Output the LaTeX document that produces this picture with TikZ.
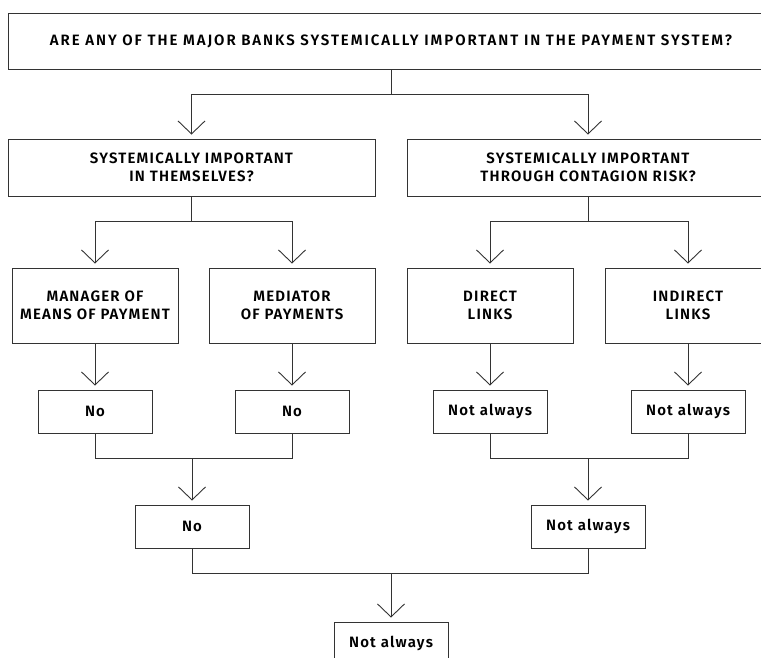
\documentclass[tikz,border=0pt]{standalone}
\usepackage{fontspec}
\setmainfont{Fira Sans}[LetterSpace=8,BoldFont={Fira Sans SemiBold}]
\usetikzlibrary{arrows.meta}

\tikzstyle{box}=[draw=black!80,line width=0.9pt,rectangle,inner sep=0pt,align=center,font=\fontsize{15}{18.5}\selectfont\bfseries]
\tikzstyle{small}=[box,minimum width=114pt,minimum height=43pt,font=\fontsize{15}{18}\selectfont\bfseries]
\tikzstyle{line}=[draw=black!80,line width=0.9pt]
\tikzstyle{arrow}=[line,-{Straight Barb[length=13pt,width=27pt]},shorten >=4pt]

\begin{document}
\begin{tikzpicture}[x=1pt,y=-1pt]
    \useasboundingbox (0,0) rectangle (761,657);
    % The question and its two branches
    \node[box,minimum width=766pt,minimum height=56pt] (q) at (391,41)
        {\addfontfeature{LetterSpace=13}ARE ANY OF THE MAJOR BANKS SYSTEMICALLY IMPORTANT IN THE PAYMENT SYSTEM?};
    \node[box,minimum width=367pt,minimum height=57pt] (self) at (191.5,167.5)
        {SYSTEMICALLY IMPORTANT\\IN THEMSELVES?};
    \node[box,minimum width=362pt,minimum height=57pt] (cont) at (588,167.5)
        {SYSTEMICALLY IMPORTANT\\THROUGH CONTAGION RISK?};
    % Roles and links
    \foreach \pos/\name/\txt in {{(95,305.5)/manager/{MANAGER OF\\MEANS OF PAYMENT}},
        {(292,305.5)/mediator/{MEDIATOR\\OF PAYMENTS}},
        {(490,305.5)/direct/{DIRECT\\LINKS}},
        {(688,305.5)/indirect/{INDIRECT\\LINKS}}}
        \node[box,minimum width=166pt,minimum height=75pt] (\name) at \pos {\txt};
    % Answers
    \foreach \pos/\name/\txt in {{(95,411.5)/no1/No}, {(292,411.5)/no2/No},
        {(490,411.5)/na1/Not always}, {(688,411.5)/na2/Not always},
        {(192,526.5)/no3/No}, {(588,526.5)/na3/Not always},
        {(391,643.5)/final/Not always}}
        \node[small] (\name) at \pos {\txt};

    % Splits
    \foreach \parent/\left/\right in {q/self/cont, self/manager/mediator, cont/direct/indirect}
    {
        \path[line] (\parent.south) -- ++(0,25) coordinate (j);
        \path[arrow] (j) -| (\left.north);
        \path[arrow] (j) -| (\right.north);
    }
    \foreach \source/\dest in {manager/no1, mediator/no2, direct/na1, indirect/na2}
        \path[arrow] (\source.south) -- (\dest.north);
    % Merges
    \foreach \a/\b/\child in {no1/no2/no3, na1/na2/na3, no3/na3/final}
    {
        \path[line] (\a.south) -- ++(0,25) coordinate (m) -| (\b.south);
        \path[arrow] (m -| \child.north) -- (\child.north);
    }
\end{tikzpicture}
\end{document}
